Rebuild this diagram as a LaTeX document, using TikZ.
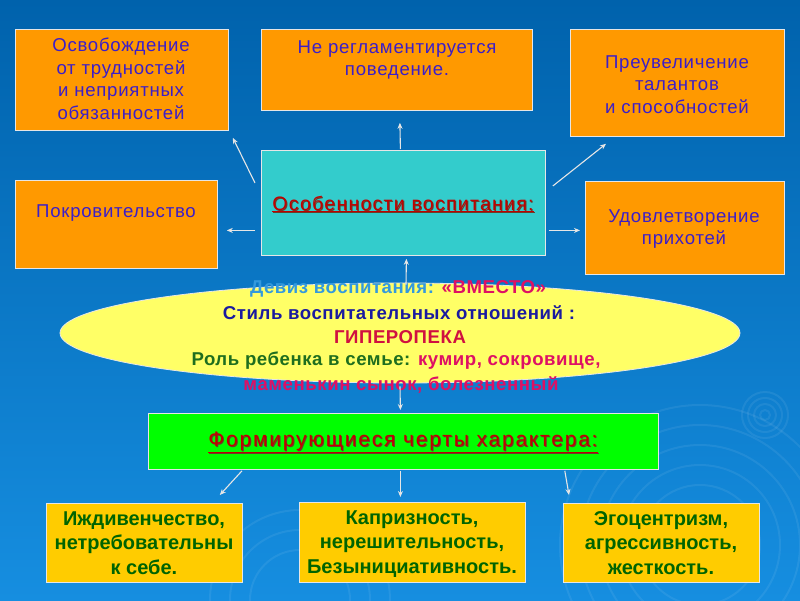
\documentclass[tikz,border=0pt]{standalone}
\usepackage{fontspec}
\setmainfont{Liberation Sans}
\newfontfamily\spacedA[LetterSpace=4]{Liberation Sans}
\newfontfamily\spacedE[LetterSpace=3]{Liberation Sans}
\newfontfamily\spacedB[LetterSpace=8.5]{Liberation Sans}
\newfontfamily\spacedC[LetterSpace=6.5]{Liberation Sans}
\usetikzlibrary{shapes.geometric,arrows.meta}
\definecolor{bgtop}{RGB}{0,98,172}
\definecolor{bgbot}{RGB}{22,142,224}
\definecolor{orangebox}{RGB}{255,153,0}
\definecolor{goldbox}{RGB}{255,204,0}
\definecolor{cyanbox}{RGB}{51,204,204}
\definecolor{greenbox}{RGB}{0,255,0}
\definecolor{ellfill}{RGB}{255,255,102}
\definecolor{toptext}{RGB}{60,30,200}
\definecolor{titlered}{RGB}{192,0,0}
\definecolor{titleshadow}{RGB}{110,60,40}
\definecolor{botgreen}{RGB}{0,100,0}
\definecolor{mottoblue}{RGB}{51,153,221}
\definecolor{magred}{RGB}{222,16,100}
\definecolor{darkblue}{RGB}{26,26,160}
\definecolor{crimson}{RGB}{208,16,64}
\definecolor{rolegreen}{RGB}{30,110,30}
\definecolor{edge}{RGB}{230,230,230}
\tikzset{
  boxbase/.style={rectangle, draw=edge, line width=0.8pt, inner sep=0pt, anchor=north west},
  obox/.style={boxbase, fill=orangebox},
  gbox/.style={boxbase, fill=goldbox},
  topfont/.style={text=toptext, align=center, font=\spacedA\fontsize{18.6}{22.5}\selectfont},
  botfont/.style={text=botgreen, align=center, font=\fontsize{20}{24.5}\selectfont\bfseries},
  ellfont/.style={align=center, font=\spacedE\fontsize{18.6}{20}\selectfont\bfseries, inner sep=0pt},
  ctitle/.style={font=\spacedC\fontsize{19.5}{22}\selectfont},
  gtitle/.style={font=\spacedB\fontsize{21}{24}\selectfont},
  arr/.style={draw=edge, line width=1.1pt, -{Stealth[length=6pt,width=5pt]}},
  deco/.style={draw=white, opacity=0.07, line width=2pt}
}
\begin{document}
\begin{tikzpicture}[x=1pt,y=-1pt]
\useasboundingbox (0,0) rectangle (800,600);
\shade[top color=bgtop, bottom color=bgbot] (0,0) rectangle (800,600);
% decorative rings
\foreach \r in {5,11,17,23} \draw[deco] (765,415) circle (\r);
\foreach \r in {60,80,100,120,140} \draw[deco] (700,545) circle (\r);
\foreach \r in {50,70,90} \draw[deco] (300,600) circle (\r);

% top boxes
\node[obox, minimum width=213, minimum height=101] (b1) at (15,29) {};
\node[topfont] (t1) at (121,79) {Освобождение\\от трудностей\\и неприятных\\обязанностей};
\node[obox, minimum width=271, minimum height=81] (b2) at (261,29) {};
\node[topfont] (t2) at (397,60) {Не регламентируется\\поведение.};
\node[obox, minimum width=214, minimum height=107] (b3) at (570,29) {};
\node[topfont] (t3) at (677,84.5) {Преувеличение\\талантов\\и способностей};
\node[obox, minimum width=202, minimum height=88] (b4) at (15,180) {};
\node[topfont] (t4) at (116,213) {Покровительство};
\node[obox, minimum width=199, minimum height=93] (b6) at (585,181) {};
\node[topfont] (t6) at (684,229) {Удовлетворение\\прихотей};

% central box
\node[boxbase, fill=cyanbox, minimum width=284, minimum height=105] (c) at (261,150) {};
\node[ctitle, text=titleshadow] (cs) at (404,205) {\underline{Особенности воспитания:}};
\node[ctitle, text=titlered] (ct) at (403,204) {\underline{Особенности воспитания:}};

% ellipse
\node[ellipse, draw=edge, line width=0.8pt, fill=ellfill, minimum width=680, minimum height=100, inner sep=0pt] (e) at (400,333) {};
\node[ellfont] (l1) at (398,289) {\textcolor{mottoblue}{Девиз воспитания:} \textcolor{magred}{«ВМЕСТО»}};
\node[ellfont, text=darkblue] (l2) at (399,313) {Стиль воспитательных отношений :};
\node[ellfont, text=crimson] (l3) at (400,337) {ГИПЕРОПЕКА};
\node[ellfont] (l4) at (396,361) {\textcolor{rolegreen}{Роль ребенка в семье:} \textcolor{magred}{кумир, сокровище,}};
\node[ellfont, text=magred] (l5) at (401,385) {маменькин сынок, болезненный};

% green box
\node[boxbase, fill=greenbox, minimum width=510, minimum height=56] (g) at (148,413) {};
\node[gtitle, text=titleshadow] (gs) at (404,443) {\underline{Формирующиеся черты характера:}};
\node[gtitle, text=titlered] (gt) at (403,442) {\underline{Формирующиеся черты характера:}};

% bottom boxes
\node[gbox, minimum width=196, minimum height=79] (k1) at (46,503) {};
\node[botfont] (s1) at (144,543) {Иждивенчество,\\нетребовательны\\к себе.};
\node[gbox, minimum width=226, minimum height=80] (k2) at (299,502) {};
\node[botfont] (s2) at (412,544) {Капризность,\\нерешительность,\\Безынициативность.};
\node[gbox, minimum width=196, minimum height=79] (k3) at (563,503) {};
\node[botfont] (s3) at (661,543) {Эгоцентризм,\\агрессивность,\\жесткость.};

% connectors
\draw[arr] ([shift={(-6,33)}]c.north west) -- ([shift={(4,7)}]b1.south east);
\draw[arr] ([shift={(-3,-1)}]c.north) -- ([shift={(3,12)}]b2.south);
\draw[arr] ([shift={(7,36)}]c.north east) -- ([shift={(36,7)}]b3.south west);
\draw[arr] ([shift={(-6,27.5)}]c.west) -- ([shift={(9,6)}]b4.east);
\draw[arr] ([shift={(3,27.5)}]c.east) -- ([shift={(-5,2.5)}]b6.west);
\draw[arr] ([shift={(6,2)}]e.north) -- ([shift={(3,3)}]c.south);
\draw[arr] ([shift={(0,3)}]e.south) -- ([shift={(-3,-3)}]g.north);
\draw[arr] ([shift={(94,1)}]g.south west) -- ([shift={(-23,-8)}]k1.north east);
\draw[arr] ([shift={(-3,1)}]g.south) -- ([shift={(-12,-5)}]k2.north);
\draw[arr] ([shift={(-94,1)}]g.south east) -- ([shift={(6,-8)}]k3.north west);
\end{tikzpicture}
\end{document}
